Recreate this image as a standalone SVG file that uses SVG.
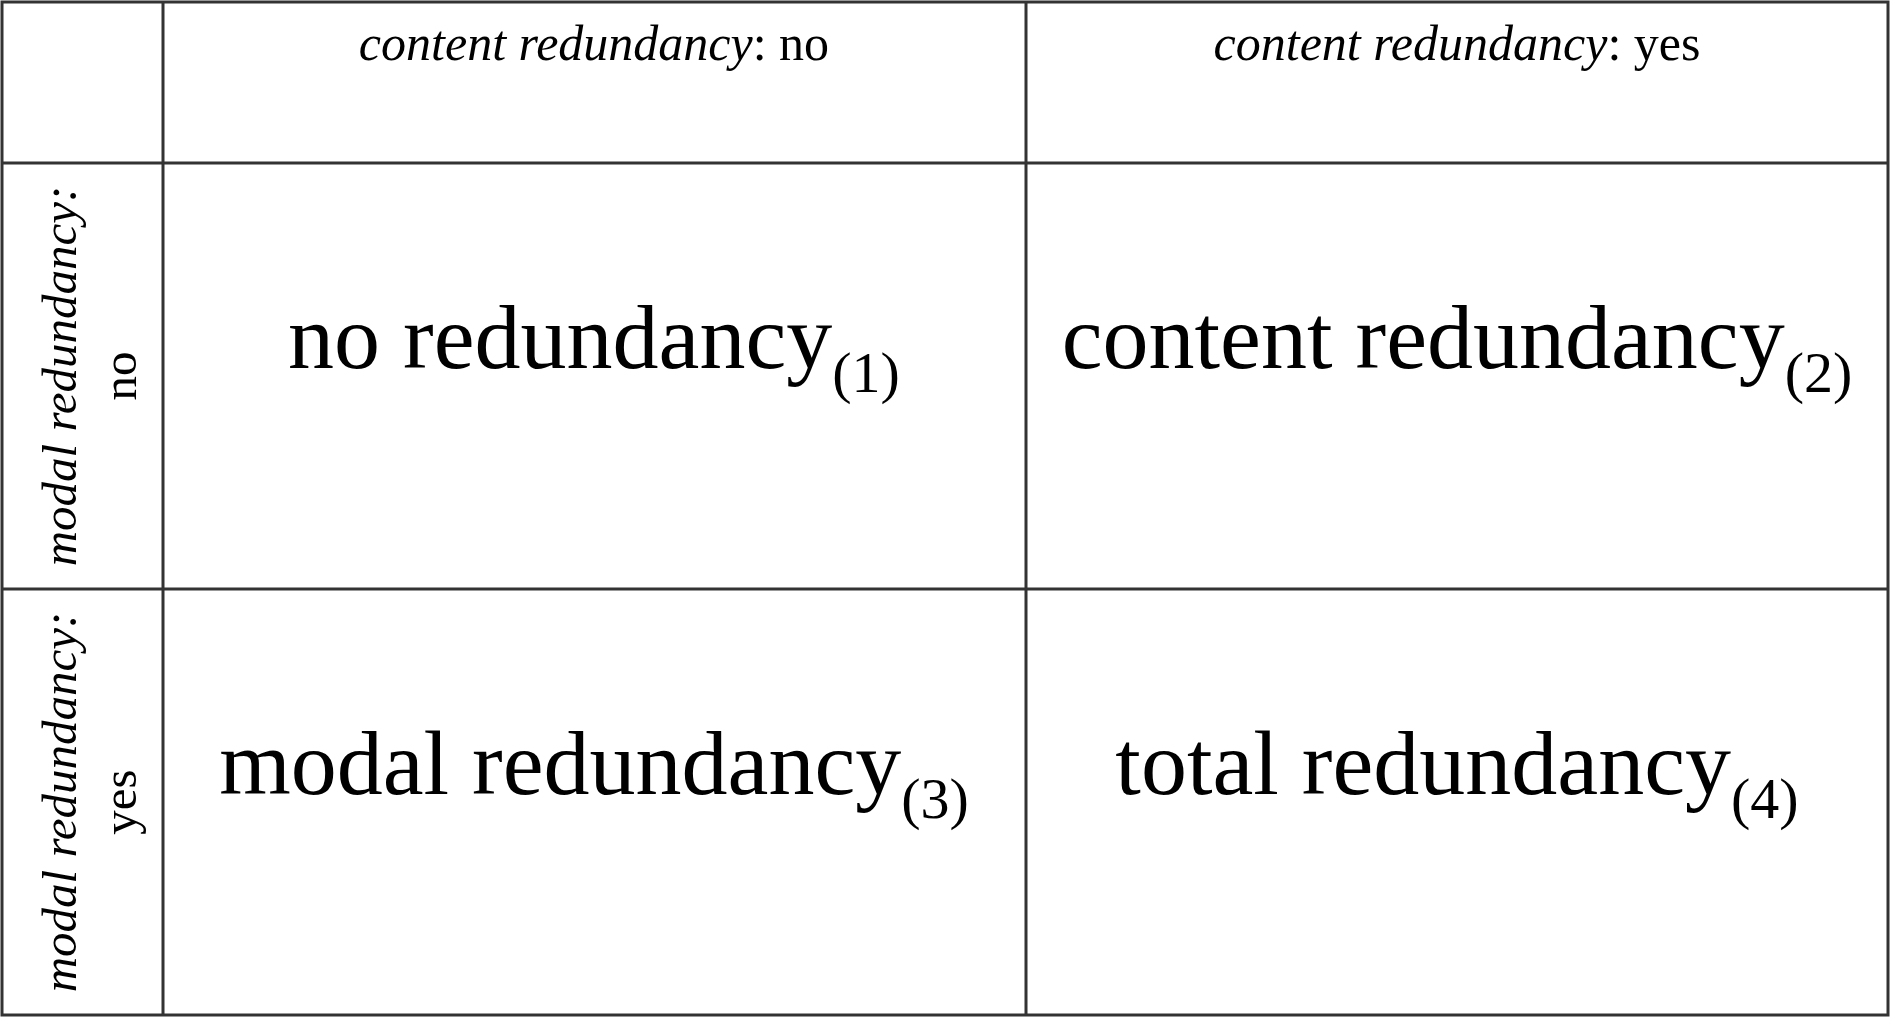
<svg xmlns="http://www.w3.org/2000/svg" width="1890" height="1019" viewBox="0 0 1890 1019">
<style>
.g{stroke:#333;stroke-width:3;fill:none}
.h{font-family:"Liberation Serif",serif;font-size:50px;fill:#000}
.v{font-family:"Liberation Serif",serif;font-size:49px;fill:#000}
.m{font-family:"Liberation Serif",serif;font-size:92px;fill:#000}
.s{font-size:58px}
</style>
<rect width="1890" height="1019" fill="#fff"/>
<g id="grid">
<rect class="g" x="2" y="2" width="1886" height="1013"/>
<line class="g" x1="163" y1="2" x2="163" y2="1015"/>
<line class="g" x1="1026" y1="2" x2="1026" y2="1015"/>
<line class="g" x1="2" y1="163" x2="1888" y2="163"/>
<line class="g" x1="2" y1="589" x2="1888" y2="589"/>
</g>
<g id="col1"><text class="h" x="594" y="60" text-anchor="middle"><tspan font-style="italic">content redundancy</tspan>: no</text></g>
<g id="col2"><text class="h" x="1457" y="60" text-anchor="middle"><tspan font-style="italic">content redundancy</tspan>: yes</text></g>
<g id="row1"><text class="v" transform="translate(76,376) rotate(-90)" text-anchor="middle" font-style="italic">modal redundancy:</text>
<text class="v" transform="translate(136,376) rotate(-90)" text-anchor="middle">no</text></g>
<g id="row2"><text class="v" transform="translate(76,802) rotate(-90)" text-anchor="middle" font-style="italic">modal redundancy:</text>
<text class="v" transform="translate(136,802) rotate(-90)" text-anchor="middle">yes</text></g>
<g id="c1"><text class="m" x="594" y="368" text-anchor="middle">no redundancy<tspan class="s" dy="24">(1)</tspan></text></g>
<g id="c2"><text class="m" x="1457" y="368" text-anchor="middle">content redundancy<tspan class="s" dy="24">(2)</tspan></text></g>
<g id="c3"><text class="m" x="594" y="794" text-anchor="middle">modal redundancy<tspan class="s" dy="24">(3)</tspan></text></g>
<g id="c4"><text class="m" x="1457" y="794" text-anchor="middle">total redundancy<tspan class="s" dy="24">(4)</tspan></text></g>
<g id="connectors"/>
</svg>
